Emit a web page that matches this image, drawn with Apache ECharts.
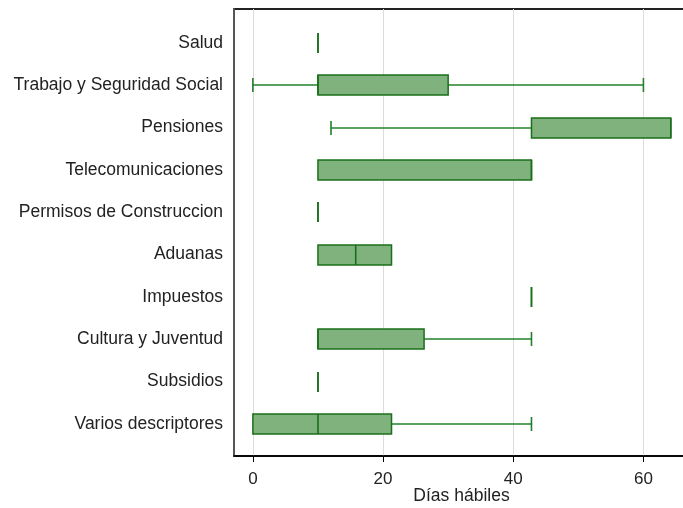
<!DOCTYPE html>
<html>
<head>
<meta charset="utf-8">
<script src="https://cdn.jsdelivr.net/npm/echarts@6/dist/echarts.min.js"></script>
<style>html,body{margin:0;padding:0;background:#fff}#c{width:683px;height:508px}</style>
</head>
<body>
<div id="c"></div>
<script>
const categories = ["Salud","Trabajo y Seguridad Social","Pensiones","Telecomunicaciones","Permisos de Construccion","Aduanas","Impuestos","Cultura y Juventud","Subsidios","Varios descriptores"];
const mins    = [10, 0, 12, 10, 10, 10, 42.8, 10, 10, 0];
const q1s     = [10, 10, 42.8, 10, 10, 10, 42.8, 10, 10, 0];
const medians = [10, 10, 64.2, 42.8, 10, 15.8, 42.8, 10, 10, 10];
const q3s     = [10, 30, 64.2, 42.8, 10, 21.3, 42.8, 26.3, 10, 21.3];
const maxs    = [10, 60, 64.2, 42.8, 10, 21.3, 42.8, 42.8, 10, 42.8];
const xTicks  = [0, 20, 40, 60];

const data = categories.map((c, i) => [i, mins[i], q1s[i], medians[i], q3s[i], maxs[i]]);

const FILL = '#80b27e', EDGE = '#1a6f1a', WHISK = '#23802a';
const FONT = 'Liberation Sans, Arial, sans-serif';

function renderItem(params, api) {
  const i = api.value(0);
  const mn = api.value(1), q1 = api.value(2), md = api.value(3), q3 = api.value(4), mx = api.value(5);
  const pMin = api.coord([mn, i]), pQ1 = api.coord([q1, i]), pMd = api.coord([md, i]), pQ3 = api.coord([q3, i]), pMax = api.coord([mx, i]);
  const y = Math.round(pQ1[1]);
  const hb = 10, hc = 7;
  const children = [];
  if (mn < q1) {
    children.push({type:'line', shape:{x1:pMin[0], y1:y, x2:pQ1[0], y2:y}, style:{stroke:WHISK, lineWidth:1.6}});
    children.push({type:'line', shape:{x1:pMin[0], y1:y-hc, x2:pMin[0], y2:y+hc}, style:{stroke:WHISK, lineWidth:1.6}});
  }
  if (mx > q3) {
    children.push({type:'line', shape:{x1:pQ3[0], y1:y, x2:pMax[0], y2:y}, style:{stroke:WHISK, lineWidth:1.6}});
    children.push({type:'line', shape:{x1:pMax[0], y1:y-hc, x2:pMax[0], y2:y+hc}, style:{stroke:WHISK, lineWidth:1.6}});
  }
  if (q3 > q1) {
    children.push({type:'rect', shape:{x:pQ1[0], y:y-hb, width:pQ3[0]-pQ1[0], height:2*hb}, style:{fill:FILL, stroke:EDGE, lineWidth:1.5}});
  } else {
    children.push({type:'line', shape:{x1:pQ1[0], y1:y-hb, x2:pQ1[0], y2:y+hb}, style:{stroke:EDGE, lineWidth:1.5}});
  }
  children.push({type:'line', shape:{x1:pMd[0], y1:y-hb, x2:pMd[0], y2:y+hb}, style:{stroke:EDGE, lineWidth:1.6}});
  return {type:'group', children};
}

const chart = echarts.init(document.getElementById('c'), null, {renderer:'canvas'});
chart.setOption({
  animation: false,
  backgroundColor: '#fff',
  textStyle: {fontFamily: FONT},
  grid: {left: 234, top: 9, width: 455, height: 447, outerBoundsMode: 'none', containLabel: false,
         show: true, borderColor: '#222', borderWidth: 2, backgroundColor: 'transparent'},
  xAxis: {
    type: 'value', min: -2.9, max: 67,
    axisLine: {show: true, onZero: false, lineStyle: {color: '#000', width: 1.5}},
    axisTick: {show: true, length: 6, customValues: xTicks, lineStyle: {color: '#000'}},
    axisLabel: {customValues: xTicks, fontSize: 17, color: '#222', margin: 15, fontFamily: FONT},
    splitLine: {show: true, lineStyle: {color: '#dcdcdc', width: 1}},
    name: 'Días hábiles', nameLocation: 'middle', nameGap: 31, nameMoveOverlap: false,
    nameTextStyle: {fontSize: 17.5, color: '#222', fontFamily: FONT}
  },
  yAxis: {
    type: 'value', inverse: true, min: -0.803, max: 9.756,
    axisLine: {show: true, onZero: false, lineStyle: {color: '#555', width: 2}},
    axisTick: {show: false},
    splitLine: {show: false},
    axisLabel: {
      customValues: categories.map((c, i) => i),
      formatter: v => categories[Math.round(v)],
      fontSize: 17.5, color: '#222', margin: 11, fontFamily: FONT
    }
  },
  series: [{
    type: 'custom',
    renderItem,
    encode: {x: [1,2,3,4,5], y: 0},
    data,
    clip: false
  }]
});
</script>
</body>
</html>
